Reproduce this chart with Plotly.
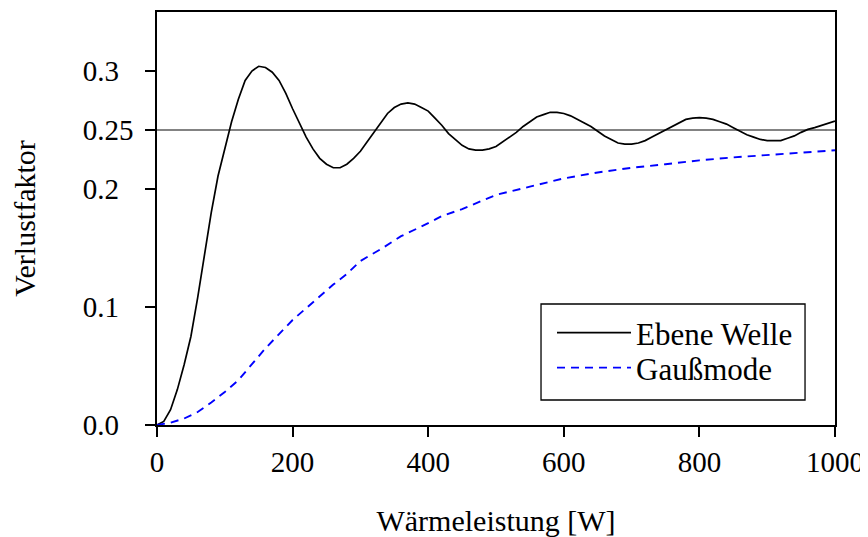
import plotly.graph_objects as go

# ---------------- data ----------------
x_ebene = [0, 10, 20, 30, 40, 50, 60, 70, 80, 90, 100, 110, 120, 130, 140, 150, 160, 170, 180, 190,
           200, 210, 220, 230, 240, 250, 260, 270, 280, 290, 300, 310, 320, 330, 340, 350, 360, 370, 380, 390,
           400, 410, 420, 430, 440, 450, 460, 470, 480, 490, 500, 510, 520, 530, 540, 550, 560, 570, 580, 590,
           600, 610, 620, 630, 640, 650, 660, 670, 680, 690, 700, 710, 720, 730, 740, 750, 760, 770, 780, 790,
           800, 810, 820, 830, 840, 850, 860, 870, 880, 890, 900, 910, 920, 930, 940, 950, 960, 970, 980, 990, 1000]
y_ebene = [0.0, 0.003, 0.013, 0.030, 0.051, 0.075, 0.108, 0.143, 0.180, 0.211,
           0.234, 0.257, 0.276, 0.292, 0.300, 0.304, 0.303, 0.299, 0.292, 0.281,
           0.268, 0.256, 0.244, 0.234, 0.226, 0.221, 0.218, 0.218, 0.221, 0.226,
           0.232, 0.240, 0.248, 0.257, 0.264, 0.269, 0.272, 0.273, 0.272, 0.269,
           0.266, 0.260, 0.254, 0.247, 0.242, 0.237, 0.234, 0.233, 0.233, 0.234,
           0.236, 0.240, 0.244, 0.248, 0.253, 0.257, 0.261, 0.263, 0.265, 0.265,
           0.264, 0.262, 0.259, 0.256, 0.253, 0.249, 0.245, 0.242, 0.239, 0.238,
           0.238, 0.239, 0.241, 0.244, 0.247, 0.250, 0.253, 0.256, 0.259, 0.260,
           0.2605, 0.260, 0.259, 0.257, 0.255, 0.252, 0.249, 0.246, 0.244, 0.242,
           0.241, 0.2407, 0.241, 0.243, 0.245, 0.248, 0.2505, 0.252, 0.254, 0.256, 0.2575]

x_gauss = [0, 20, 40, 60, 80, 100, 120, 140, 160, 180, 200, 220, 240, 260, 280, 300, 330, 360, 400,
           420, 450, 500, 550, 600, 650, 700, 750, 800, 850, 900, 950, 1000]
y_gauss = [0.0, 0.002, 0.0055, 0.011, 0.019, 0.028, 0.038, 0.052, 0.065, 0.077, 0.089, 0.099,
           0.109, 0.119, 0.128, 0.139, 0.149, 0.160, 0.171, 0.177, 0.183, 0.195, 0.202, 0.209,
           0.214, 0.218, 0.221, 0.2243, 0.2268, 0.229, 0.231, 0.2328]

ref_level = 0.25

x_tickvals = [0, 200, 400, 600, 800, 1000]
x_ticktext = ["0", "200", "400", "600", "800", "1000"]
y_tickvals = [0.0, 0.1, 0.2, 0.25, 0.3]
y_ticktext = ["0.0", "0.1", "0.2", "0.25", "0.3"]

series_names = ["Ebene Welle", "Gaußmode"]
x_title = "Wärmeleistung [W]"
y_title = "Verlustfaktor"

# ---------------- figure ----------------
FONT = "Liberation Serif, Times New Roman, serif"
FS_TICK = 29
FS_TITLE = 30
FS_LEG = 31

# pad tick labels with figure spaces so they appear left-aligned
maxlen = max(len(t) for t in y_ticktext)
y_ticktext_padded = [t + "\u2007" * (maxlen - len(t)) for t in y_ticktext]

fig = go.Figure()
fig.add_trace(go.Scatter(x=x_ebene, y=y_ebene, mode="lines", name=series_names[0],
                         line=dict(color="black", width=1.7), legend="legend"))
fig.add_trace(go.Scatter(x=x_gauss, y=y_gauss, mode="lines", name=series_names[1],
                         line=dict(color="#0000ff", width=1.9, dash="8px,6px"), legend="legend2"))

fig.add_shape(type="line", xref="paper", x0=0, x1=1, yref="y", y0=ref_level, y1=ref_level,
              line=dict(color="rgb(90,90,90)", width=1.3), layer="below")

# legend frame
fig.add_shape(type="rect", xref="paper", yref="paper",
              x0=0.5664, x1=0.9558, y0=0.0605, y1=0.293,
              line=dict(color="black", width=1.3), fillcolor="rgba(0,0,0,0)")

leg_common = dict(xanchor="left", yanchor="middle", bgcolor="rgba(0,0,0,0)", borderwidth=0,
                  font=dict(family=FONT, size=FS_LEG, color="black"), itemwidth=74)

fig.update_layout(
    width=860, height=529,
    margin=dict(l=149, r=33, t=4, b=112),
    paper_bgcolor="white", plot_bgcolor="white",
    font=dict(family=FONT, size=FS_TICK, color="black"),
    showlegend=True,
    legend=dict(x=0.5826, y=0.2228, **leg_common),
    legend2=dict(x=0.5826, y=0.138, **leg_common),
    xaxis=dict(range=[0, 1000], tickvals=x_tickvals, ticktext=x_ticktext,
               ticks="outside", ticklen=10, tickwidth=1.5, tickcolor="black",
               showline=True, linecolor="black", linewidth=1.6, mirror=True,
               showgrid=False, zeroline=False, automargin=False,
               title=dict(text=x_title, standoff=38, font=dict(family=FONT, size=FS_TITLE))),
    yaxis=dict(range=[0, 0.35], tickvals=y_tickvals, ticktext=y_ticktext_padded,
               ticks="outside", ticklen=10, tickwidth=1.5, tickcolor="black",
               ticklabelstandoff=6,
               showline=True, linecolor="black", linewidth=1.6, mirror=True,
               showgrid=False, zeroline=False, automargin=False,
               title=dict(text=y_title, standoff=54, font=dict(family=FONT, size=FS_TITLE))),
)

fig.write_html("out.html")
